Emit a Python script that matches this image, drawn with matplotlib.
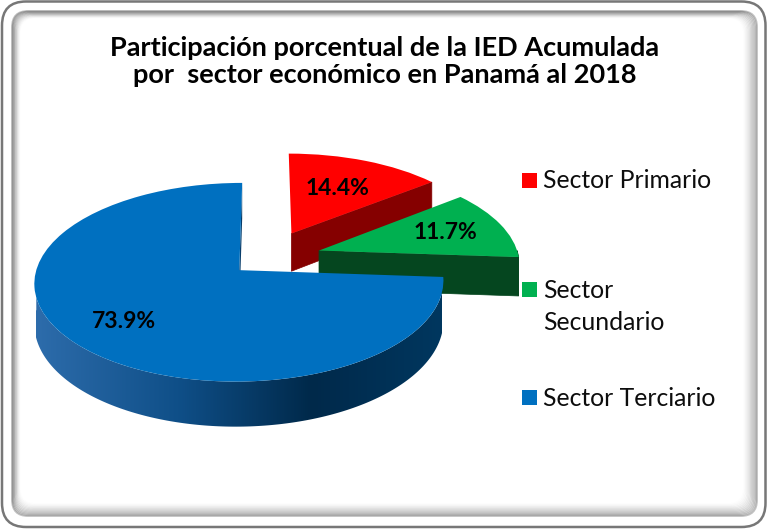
import numpy as np
import matplotlib.pyplot as plt
from matplotlib.patches import Polygon, FancyBboxPatch, Rectangle
from matplotlib.colors import LinearSegmentedColormap
from matplotlib.transforms import Transform

plt.rcParams['font.family'] = ['Lato', 'DejaVu Sans']

# data
title = 'Participación porcentual de la IED Acumulada\npor  sector económico en Panamá al 2018'
sectors = ['Sector Primario', 'Sector\nSecundario', 'Sector Terciario']
shares = [14.4, 11.7, 73.9]

# styling
top_colors = ['#FF0000', '#00B050', '#0070C0']
side_colors = ['#850000', '#05461f', None]
blue_side = LinearSegmentedColormap.from_list(
    'blue_side', [(0, '#2d6cab'), (0.35, '#0f4f88'), (0.68, '#00294a'), (1, '#00375f')])
explode = [0.30, 0.28, 0.18]
label_dist = [0.60, 0.69, 0.72]

W, H = 768, 529
fig = plt.figure(figsize=(W / 100, H / 100), dpi=100)

# background frame, pixel coordinates
bg = fig.add_axes([0, 0, 1, 1])
bg.set_xlim(0, W)
bg.set_ylim(H, 0)
bg.axis('off')
bg.add_patch(FancyBboxPatch((2, 1.5), W - 4.5, H - 3.5, boxstyle='round,pad=0,rounding_size=24',
                            fc='white', ec='#777777', lw=1.8))
for i in range(12):
    a = 0.32 * (1 - i / 12) ** 1.5
    bg.add_patch(FancyBboxPatch((12 + i * 0.7, 11 + i * 0.6), 745 - i * 1.9, 505 - i * 1.7,
                                boxstyle='round,pad=0,rounding_size=16',
                                fc='none', ec=(0.25, 0.25, 0.25, a), lw=1.3))

bg.text(385, 83, title, ha='center', va='baseline', fontsize=19.5, fontweight='bold',
        color='black', linespacing=1.15)

# legend
leg_y = [180, 289, 397.5]
for lab, col, y in zip(sectors, top_colors, leg_y):
    bg.add_patch(Rectangle((522, y - 7.5), 15, 15, fc=col, ec='none'))
    n = lab.count('\n')
    bg.text(543, y + 8 + n * 33, lab, ha='left', va='baseline', fontsize=17.8,
            color='#0d0d0d', linespacing=1.48)

# 3D pie: unit circle seen from above-front, farther side drawn smaller
cx, cy = 266, 258.3
RX, RY = 200, 95
K = 0.12          # perspective strength
T = 39 / RY       # thickness


def tilt(x, y, h=0.0):
    s = 1.0 / (1.0 + K * np.asarray(y))
    return x * s, (y - h) * s


class Tilt(Transform):
    input_dims = output_dims = 2

    def transform_non_affine(self, values):
        v = np.asarray(values, float)
        x, y = tilt(v[:, 0], v[:, 1])
        return np.column_stack([x, y])


pax = fig.add_axes([0, 0, 1, 1])
pax.set_facecolor('none')

wedges, _ = pax.pie(shares, explode=explode, colors=top_colors, startangle=90,
                    counterclock=False, wedgeprops=dict(linewidth=0))

for i, w in enumerate(wedges):
    x0, y0 = w.center
    r, t1, t2 = w.r, w.theta1, w.theta2
    z = 2 * i + 1
    w.set_transform(Tilt() + pax.transData)
    w.set_zorder(z + 1)
    polys = []
    # front part of the rim
    for k in range(-2, 2):
        lo, hi = max(t1, 360 * k - 180), min(t2, 360 * k)
        if hi > lo:
            th = np.radians(np.linspace(lo, hi, 200))
            xs = x0 + r * np.cos(th)
            ys = y0 + r * np.sin(th)
            xa, ya = tilt(xs, ys)
            xb, yb = tilt(xs, ys, T)
            polys.append(np.column_stack([np.r_[xa, xb[::-1]], np.r_[ya, yb[::-1]]]))
    # cut faces that look toward the viewer
    for a, sgn in ((t1, 1), (t2, -1)):
        if sgn * np.cos(np.radians(a)) > 1e-9:
            xs = np.array([x0, x0 + r * np.cos(np.radians(a))])
            ys = np.array([y0, y0 + r * np.sin(np.radians(a))])
            xa, ya = tilt(xs, ys)
            xb, yb = tilt(xs, ys, T)
            polys.append(np.column_stack([np.r_[xa, xb[::-1]], np.r_[ya, yb[::-1]]]))
    for p in polys:
        if side_colors[i] is None:
            patch = Polygon(p, closed=True, fc='none', ec='none')
            pax.add_patch(patch)
            grad = np.linspace(0, 1, 256).reshape(1, -1)
            gx0, gx1 = tilt(np.array([x0 - r, x0 + r]), np.array([y0, y0]))[0]
            img = pax.imshow(grad, extent=(gx0, gx1, p[:, 1].min(), p[:, 1].max()),
                             cmap=blue_side, aspect='auto', zorder=z, interpolation='bilinear')
            img.set_clip_path(patch)
        else:
            pax.add_patch(Polygon(p, closed=True, fc=side_colors[i], ec=side_colors[i],
                                  lw=0.5, zorder=z))

for w, v, d in zip(wedges, shares, label_dist):
    mid = np.radians((w.theta1 + w.theta2) / 2)
    lx, ly = tilt(w.center[0] + d * w.r * np.cos(mid), w.center[1] + d * w.r * np.sin(mid))
    pax.text(lx, ly, f'{v:.1f}%', ha='center', va='center', fontsize=16.5,
             fontweight='bold', color='black', zorder=10)

pax.set_xlim(-cx / RX, (W - cx) / RX)
pax.set_ylim((cy - H) / RY, cy / RY)
pax.set_aspect('auto')
pax.axis('off')

fig.savefig('out.png', dpi=100)
